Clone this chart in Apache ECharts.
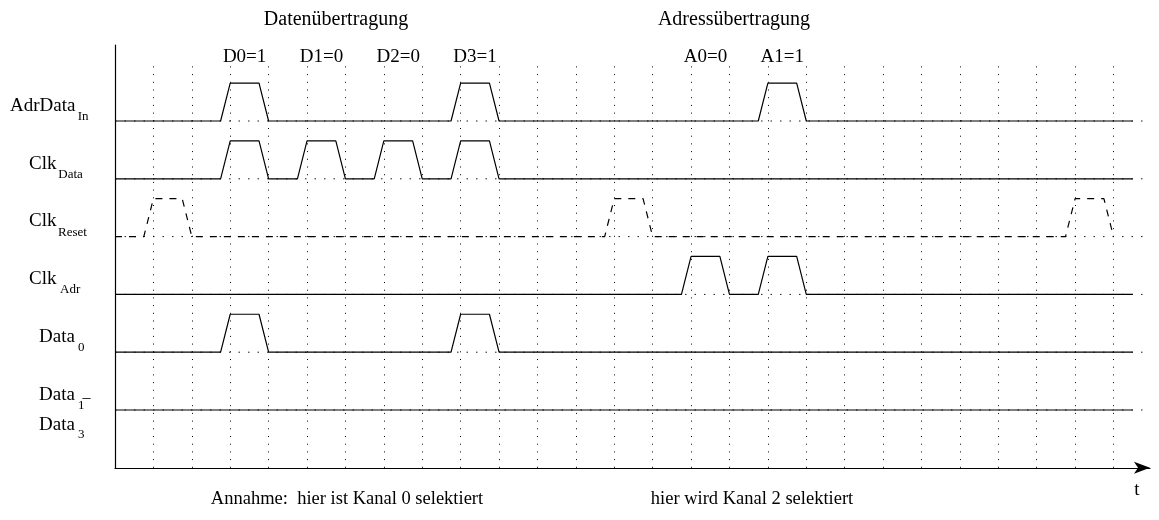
<!DOCTYPE html>
<html><head><meta charset="utf-8">
<script src="https://cdn.jsdelivr.net/npm/echarts@6/dist/echarts.min.js"></script>
<style>html,body{margin:0;padding:0;background:#fff}#c{width:1159px;height:520px}</style>
</head><body><div id="c"></div>
<script>
// ---------- data ----------
const signalNames = ['AdrData', 'Clk', 'Clk', 'Clk', 'Data', 'Data'];
const signalSubs  = ['In', 'Data', 'Reset', 'Adr', '0', '1'];
const lastName = 'Data';
const lastSub = '3';
// waveforms: [time, level]
const adrDataIn = [[0,0],[2.75,0],[3,1],[3.75,1],[4,0],[8.75,0],[9,1],[9.75,1],[10,0],[16.75,0],[17,1],[17.75,1],[18,0],[26.5,0]];
const clkData   = [[0,0],[2.75,0],[3,1],[3.75,1],[4,0],[4.75,0],[5,1],[5.75,1],[6,0],[6.75,0],[7,1],[7.75,1],[8,0],[8.75,0],[9,1],[9.75,1],[10,0],[26.5,0]];
const clkReset  = [[0,0],[0.75,0],[1,1],[1.75,1],[2,0],[12.75,0],[13,1],[13.75,1],[14,0],[24.75,0],[25,1],[25.75,1],[26,0]];
const clkAdr    = [[0,0],[14.75,0],[15,1],[15.75,1],[16,0],[16.75,0],[17,1],[17.75,1],[18,0],[26.5,0]];
const data0     = [[0,0],[2.75,0],[3,1],[3.75,1],[4,0],[8.75,0],[9,1],[9.75,1],[10,0],[26.5,0]];
const data1to3  = [[0,0],[26.5,0]];
const gridTimes = [1,2,3,4,5,6,7,8,9,10,11,12,13,14,15,16,17,18,19,20,21,22,23,24,25,26];
const bitLabels = ['D0=1','D1=0','D2=0','D3=1','A0=0','A1=1'];
const bitLabelTimes = [3.375,5.375,7.375,9.375,15.375,17.375];
const phaseTitles = ['Datenübertragung','Adressübertragung'];
const notes = ['Annahme:  hier ist Kanal 0 selektiert','hier wird Kanal 2 selektiert'];
const timeLabel = 't';

// ---------- layout ----------
const waves = [adrDataIn, clkData, clkReset, clkAdr, data0, data1to3];
const lanes = [6,5,4,3,2,1];
const dashed = [false,false,true,false,false,false];
const amp = 0.657;
const FONT = '"Liberation Serif", "Times New Roman", serif';

const series = [];
// vertical dotted grid
series.push({
  type:'line', silent:true, symbol:'none', z:1, data:[],
  markLine:{
    silent:true, symbol:'none', label:{show:false}, animation:false,
    lineStyle:{color:'#000', width:1, type:[1,6.7], opacity:1},
    data: gridTimes.map(k => [{coord:[k,0]},{coord:[k,7]}])
  }
});
// dotted baseline guides
lanes.forEach(l => {
  series.push({
    type:'line', silent:true, symbol:'none', z:1,
    data:[[0,l],[26.9,l]],
    lineStyle:{color:'#000', width:1, type:[1.5,8], opacity:0.9}
  });
});
waves.forEach((w,i) => {
  series.push({
    type:'line', silent:true, symbol:'none', z:3,
    data: w.map(p => [p[0], lanes[i] + p[1]*amp]),
    lineStyle:{color:'#000', width:1.2, type: dashed[i] ? [7,7] : 'solid'}
  });
});

const option = {
  animation:false,
  backgroundColor:'#fff',
  grid:{left:115, right:9, top:45, bottom:52.2},
  xAxis:{type:'value', min:0, max:26.95,
    axisLine:{onZero:false, lineStyle:{color:'#000', width:1.2}, symbol:['none','arrow'], symbolSize:[9,16]},
    axisTick:{show:false}, axisLabel:{show:false}, splitLine:{show:false}},
  yAxis:{type:'value', min:0, max:7.315,
    axisLine:{show:true, lineStyle:{color:'#000', width:1.2}},
    axisTick:{show:false}, axisLabel:{show:false}, splitLine:{show:false}},
  series
};

const chart = echarts.init(document.getElementById('c'));
chart.setOption(option);
const px = (t,v) => chart.convertToPixel({gridIndex:0},[t,v]);

const g = [];
function txt(x,y,s,size,align){
  g.push({type:'text', x:x, y:y, silent:true, z:10,
    style:{text:s, font: size+'px '+FONT, fill:'#000', align:align||'left', verticalAlign:'middle'}});
}
const mainX = [10,29,29,29,39,39];
const subX  = [77.7,58.3,58,60,78,78];
lanes.forEach((l,i) => {
  const y = px(0,l)[1];
  txt(mainX[i], y-15.2, signalNames[i], 19);
  txt(subX[i], y-4.4, signalSubs[i], 13);
});
{
  const y = px(0,lanes[5])[1];
  txt(82.5, y-12.5, '–', 16);
  txt(39, y+15, lastName, 19);
  txt(78, y+25, lastSub, 13);
}
bitLabels.forEach((s,i) => {
  const p = px(bitLabelTimes[i], 0);
  txt(p[0], 57, s, 19, 'center');
});
txt(336, 20, phaseTitles[0], 20, 'center');
txt(734, 20, phaseTitles[1], 20, 'center');
txt(347, 499, notes[0], 18.5, 'center');
txt(752, 499, notes[1], 18.5, 'center');
txt(1137, 490, timeLabel, 19, 'center');
chart.setOption({graphic:g});
</script>
</body></html>
